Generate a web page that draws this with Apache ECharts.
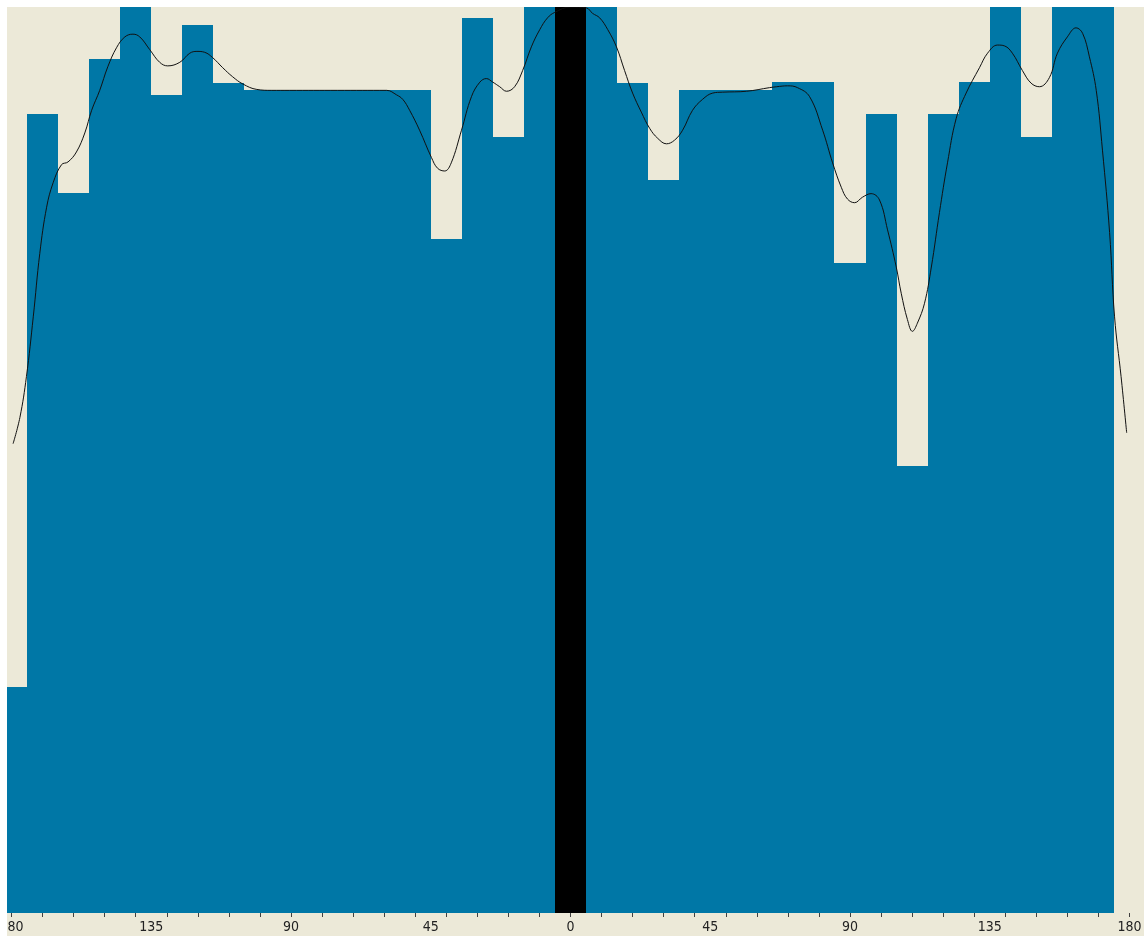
<!DOCTYPE html>
<html>
<head>
<meta charset="utf-8">
<script src="https://cdn.jsdelivr.net/npm/echarts@6/dist/echarts.min.js"></script>
<style>
  html, body { margin: 0; padding: 0; background: #fff; overflow: hidden; }
  #chart { position: absolute; left: -4px; top: 7px; width: 1149px; height: 929px; }
</style>
</head>
<body>
<div id="chart"></div>
<script>
// bin centres (degrees) and bar heights (percent of full scale)
const binAngles = [
  -180, -170, -160, -150, -140, -130, -120, -110, -100, -90, -80, -70, -60, -50, -40, -30, -20, -10,
  0, 10, 20, 30, 40, 50, 60, 70, 80, 90, 100, 110, 120, 130, 140, 150, 160, 170, 180
];
const binValues = [
  24.9, 88.2, 79.5, 94.3, 100, 90.3, 98.0, 91.6, 90.8, 90.8, 90.8, 90.8, 90.8, 90.8, 74.4, 98.8, 85.7, 100,
  100, 100, 91.6, 80.9, 90.8, 90.8, 90.8, 91.7, 91.7, 71.7, 88.2, 49.3, 88.2, 91.7, 100, 85.7, 100, 100, 0
];
const highlightAngle = 0;
const binWidth = 10;

// smoothed curve: [angle, value]
const curvePoints = [
  [-179.5, 51.8], [-177.3, 54.7], [-175.2, 59.2], [-173.0, 65.8], [-170.9, 72.8], [-168.7, 77.9],
  [-166.6, 80.6], [-163.9, 82.6], [-161.8, 82.9], [-159.1, 84.0], [-156.4, 86.1], [-154.2, 88.6],
  [-151.6, 90.8], [-149.0, 93.4], [-146.2, 95.5], [-143.5, 96.7], [-140.9, 97.0], [-138.7, 96.7],
  [-135.5, 95.3], [-132.3, 93.9], [-129.7, 93.5], [-125.8, 93.9], [-122.6, 94.9], [-120.3, 95.1],
  [-117.8, 95.0], [-115.2, 94.4], [-112.0, 93.3], [-108.8, 92.3], [-105.5, 91.5], [-101.0, 90.9],
  [-96.2, 90.8], [-90.4, 90.8], [-75.0, 90.8], [-59.2, 90.8], [-56.0, 90.3], [-54.0, 89.8],
  [-51.8, 88.6], [-48.6, 86.4], [-44.8, 83.4], [-42.8, 82.2], [-40.5, 81.9], [-38.4, 82.8],
  [-35.1, 86.4], [-31.9, 90.1], [-29.2, 91.7], [-27.1, 92.1], [-25.0, 91.7], [-22.8, 91.2],
  [-20.6, 90.7], [-18.0, 91.2], [-15.4, 93.0], [-12.6, 95.6], [-9.9, 97.5], [-7.4, 98.8],
  [-5.1, 99.4], [0, 100], [5.1, 99.9], [7.1, 99.3], [9.4, 98.8], [12.0, 97.5], [14.8, 95.6],
  [17.4, 93.0], [20.0, 90.5], [22.8, 88.4], [25.5, 86.6], [28.1, 85.5], [30.9, 84.9], [33.5, 85.3],
  [36.1, 86.4], [39.3, 88.6], [42.5, 89.8], [45.8, 90.5], [49.0, 90.6], [56.7, 90.7], [64.1, 91.1],
  [66.4, 91.2], [69.9, 91.3], [73.1, 91.1], [77.0, 90.1], [81.2, 86.4], [84.4, 82.8], [87.2, 80.1],
  [89.2, 78.8], [91.5, 78.4], [94.0, 79.0], [96.8, 79.4], [99.5, 78.7], [102.1, 75.4], [104.9, 71.3],
  [106.5, 68.4], [108.5, 65.5], [110.1, 64.2], [111.7, 65.1], [114.0, 67.3], [116.2, 71.3],
  [118.8, 77.3], [121.4, 82.8], [124.2, 87.7], [127.4, 90.5], [131.7, 93.3], [134.3, 94.9],
  [137.5, 95.8], [139.8, 95.7], [142.3, 94.9], [145.5, 93.0], [148.3, 91.6], [151.0, 91.2],
  [154.2, 92.2], [156.8, 94.9], [160.0, 96.7], [162.8, 97.7], [164.9, 97.1], [167.1, 94.5],
  [169.3, 90.8], [171.3, 84.2], [173.6, 75.1], [175.2, 65.8], [177.3, 59.2], [179.1, 53.0]
];

const tickAngles = [];
for (let a = -180; a <= 180; a += 10) tickAngles.push(a);
const labelAngles = [-180, -135, -90, -45, 0, 45, 90, 135, 180];

const barColor = '#0077a6';
const highlightColor = '#000000';

const chart = echarts.init(document.getElementById('chart'));

const option = {
  backgroundColor: '#ece9d8',
  animation: false,
  // white frame strip on the left, like the original control border
  graphic: [
    { type: 'rect', left: 0, top: 0, z: 100, shape: { width: 11, height: 929 }, style: { fill: '#ffffff' } }
  ],
  grid: { left: 0, right: 0, top: 0, bottom: 23 },
  xAxis: {
    type: 'value',
    min: -185,
    max: 185,
    splitLine: { show: false },
    axisLine: { show: false },
    axisTick: {
      show: true,
      length: 4,
      customValues: tickAngles,
      lineStyle: { color: '#404040', width: 1 }
    },
    axisLabel: {
      customValues: labelAngles,
      margin: 7,
      color: '#222',
      fontSize: 14,
      fontFamily: '"Liberation Sans Narrow", "DejaVu Sans Condensed", "Liberation Sans", sans-serif',
      formatter: (v) => String(Math.abs(v))
    }
  },
  yAxis: {
    type: 'value',
    min: 0,
    max: 100,
    show: false
  },
  series: [
    {
      type: 'custom',
      data: binAngles.map((a, i) => [a, binValues[i]]),
      renderItem: (params, api) => {
        const angle = api.value(0);
        const val = api.value(1);
        if (!val) return null;
        const p0 = api.coord([angle - binWidth / 2, val]);
        const p1 = api.coord([angle + binWidth / 2, 0]);
        const x0 = Math.round(p0[0]);
        const x1 = Math.round(p1[0]);
        const y0 = Math.round(p0[1]);
        const y1 = Math.round(p1[1]);
        return {
          type: 'rect',
          z2: angle === highlightAngle ? 10 : 0,
          shape: { x: x0, y: y0, width: x1 - x0, height: y1 - y0 },
          style: { fill: angle === highlightAngle ? highlightColor : barColor }
        };
      },
      z: 1
    },
    {
      type: 'line',
      data: curvePoints,
      smooth: 0.4,
      symbol: 'none',
      lineStyle: { color: '#111', width: 1 },
      z: 3
    }
  ]
};

chart.setOption(option);
</script>
</body>
</html>
